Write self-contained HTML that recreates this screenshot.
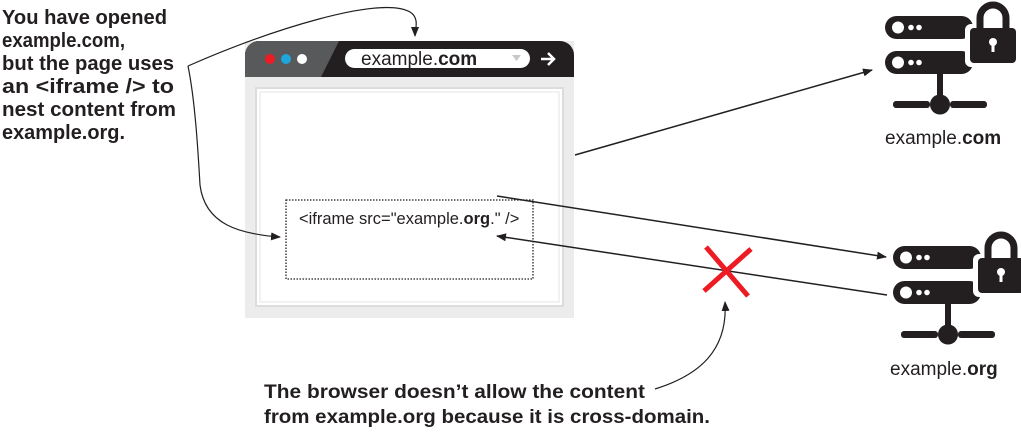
<!DOCTYPE html>
<html><head><meta charset="utf-8"><style>
html,body{margin:0;padding:0;background:#fff;}
svg{display:block;}
</style></head><body>
<svg width="1021" height="432" viewBox="0 0 1021 432" xmlns="http://www.w3.org/2000/svg" font-family="Liberation Sans, sans-serif">
<defs>
<marker id="ah" markerWidth="10" markerHeight="8" refX="9" refY="4" orient="auto" markerUnits="userSpaceOnUse">
<path d="M0,0 L10,4 L0,8 z" fill="#231f20"/></marker>
<g id="srv">
  <rect x="0" y="-1" width="88" height="23" rx="11.5" fill="#231f20"/>
  <rect x="0" y="34" width="88" height="23" rx="11.5" fill="#231f20"/>
  <circle cx="13" cy="10.5" r="6" fill="#fff"/><circle cx="26" cy="10.5" r="2.8" fill="#fff"/><circle cx="34" cy="10.5" r="2.8" fill="#fff"/>
  <circle cx="13" cy="45.5" r="6" fill="#fff"/><circle cx="26" cy="45.5" r="2.8" fill="#fff"/><circle cx="34" cy="45.5" r="2.8" fill="#fff"/>
  <rect x="52" y="55" width="6" height="30" fill="#231f20"/>
  <rect x="8" y="84" width="37" height="7" rx="3" fill="#231f20"/>
  <rect x="65" y="84" width="37" height="7" rx="3" fill="#231f20"/>
  <circle cx="55" cy="87.5" r="10" fill="#231f20"/>
  <rect x="80" y="7" width="54" height="43" rx="6" fill="#fff"/>
  <path d="M95,12 V1 a13,13 0 0 1 26,0 V12" fill="none" stroke="#231f20" stroke-width="7"/>
  <rect x="85" y="11" width="46" height="35" rx="4" fill="#231f20"/>
  <circle cx="108" cy="25" r="4" fill="#fff"/><rect x="106.5" y="25" width="3" height="10" fill="#fff"/>
</g>
</defs>

<!-- browser -->
<rect x="245" y="41" width="329" height="277" fill="#ececec"/>
<path d="M245,77 V55 a14,14 0 0 1 14,-14 H560 a14,14 0 0 1 14,14 V77 z" fill="#231f20"/>
<path d="M245,77 V55 a14,14 0 0 1 14,-14 H339 L321,77 z" fill="#58595b"/>
<circle cx="270" cy="59" r="5" fill="#ed1c24"/>
<circle cx="286" cy="59" r="5" fill="#1ea6de"/>
<circle cx="302" cy="59" r="5" fill="#fff"/>
<rect x="345" y="49" width="185" height="19" rx="9.5" fill="#fff"/>
<text x="361" y="65" font-size="19" fill="#231f20">example.<tspan font-weight="bold">com</tspan></text>
<path d="M512,55 l9,0 l-4.5,6 z" fill="#c8c8c8"/>
<path d="M541,59 h13 M548,53 l6,6 l-6,6" stroke="#fff" stroke-width="2.5" fill="none"/>
<rect x="256" y="88" width="307" height="218" fill="#fff" stroke="#dcdcdc" stroke-width="2"/>
<rect x="260" y="92" width="299" height="210" fill="#fff" stroke="#e4e4e4" stroke-width="1"/>
<rect x="286" y="200" width="247" height="79" fill="none" stroke="#231f20" stroke-width="1.3" stroke-dasharray="1.5,1.5"/>
<text x="299" y="224" font-size="16.5" fill="#231f20">&lt;iframe src="example.<tspan font-weight="bold">org</tspan>." /&gt;</text>

<!-- left text -->
<g font-size="20" font-weight="bold" fill="#231f20">
<text x="2" y="24" textLength="165" lengthAdjust="spacingAndGlyphs">You have opened</text>
<text x="2" y="47" textLength="123" lengthAdjust="spacingAndGlyphs">example.com,</text>
<text x="2" y="70" textLength="172" lengthAdjust="spacingAndGlyphs">but the page uses</text>
<text x="2" y="93" textLength="172" lengthAdjust="spacingAndGlyphs">an &lt;iframe /&gt; to</text>
<text x="2" y="116" textLength="174" lengthAdjust="spacingAndGlyphs">nest content from</text>
<text x="2" y="139" textLength="123" lengthAdjust="spacingAndGlyphs">example.org.</text>
</g>
<path d="M188,66 C270,30 380,-5 410,12 C420,18 415,30 415,36" fill="none" stroke="#231f20" stroke-width="1.2" marker-end="url(#ah)"/>
<path d="M188,66 C195,100 198,150 200,185 C205,225 240,234 280,237" fill="none" stroke="#231f20" stroke-width="1.2" marker-end="url(#ah)"/>

<!-- connectors -->
<line x1="575" y1="155" x2="872" y2="70" stroke="#231f20" stroke-width="1.5" marker-end="url(#ah)"/>
<line x1="497" y1="196" x2="886" y2="257" stroke="#231f20" stroke-width="1.5" marker-end="url(#ah)"/>
<line x1="887" y1="295" x2="497" y2="236" stroke="#231f20" stroke-width="1.5" marker-end="url(#ah)"/>
<path d="M706,247 L748,296 M751,249 L704,291" stroke="#ed1c24" stroke-width="5"/>
<path d="M655,389 C700,375 728,350 725,302" fill="none" stroke="#231f20" stroke-width="1.2" marker-end="url(#ah)"/>

<!-- servers -->
<use href="#srv" x="885" y="17"/>
<use href="#srv" x="893" y="247"/>
<text x="885" y="144" font-size="19" fill="#231f20">example.<tspan font-weight="bold">com</tspan></text>
<text x="890" y="375" font-size="19" fill="#231f20">example.<tspan font-weight="bold">org</tspan></text>

<!-- bottom text -->
<g font-size="19" font-weight="bold" fill="#231f20">
<text x="264" y="398" textLength="381" lengthAdjust="spacingAndGlyphs">The browser doesn’t allow the content</text>
<text x="264" y="423" textLength="446" lengthAdjust="spacingAndGlyphs">from example.org because it is cross-domain.</text>
</g>
</svg>
</body></html>
